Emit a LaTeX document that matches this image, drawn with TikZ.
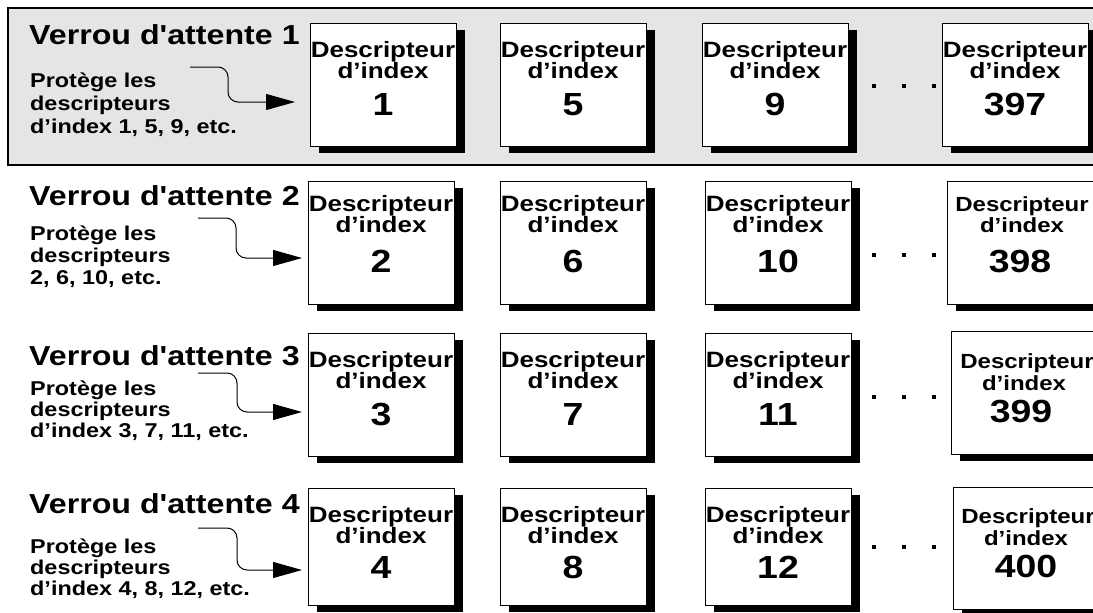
\documentclass[tikz,border=0pt]{standalone}
\usepackage{fontspec}
\setmainfont{Liberation Sans}[FakeStretch=1.17, Ligatures=TeXOff]
\usetikzlibrary{arrows.meta,shadows}
\definecolor{panelgray}{HTML}{E5E5E5}
\begin{document}
\begin{tikzpicture}[x=1pt,y=-1pt,
  dbox/.style={draw=black, line width=1pt, fill=white, minimum width=146pt, minimum height=123pt,
    inner sep=0pt, outer sep=0pt, anchor=north west,
    general shadow={fill=black, shadow xshift=8.5pt, shadow yshift=-6.7pt}},
  dtxt/.style={anchor=base, inner sep=0pt, font=\bfseries\fontsize{22.2}{24}\selectfont},
  dtxts/.style={anchor=base, inner sep=0pt, font=\bfseries\fontsize{20.5}{22}\selectfont},
  dnum/.style={anchor=base, inner sep=0pt, font=\bfseries\fontsize{32}{34}\selectfont},
  ttl/.style={anchor=base west, inner sep=0pt, font=\bfseries\fontsize{27.5}{30}\selectfont},
  sml/.style={anchor=base west, inner sep=0pt, font=\bfseries\fontsize{20}{22}\selectfont},
  conn/.style={line width=1pt, rounded corners=10pt, -{Triangle[length=29pt,width=16pt]}},
  dotmark/.style={fill=black}]
\useasboundingbox (0,0) rectangle (1093,613);
\clip (0,0) rectangle (1093,613);
% panel row 1
\draw[line width=2pt, fill=panelgray] (8,7.5) rectangle (1110,165);

% ---------- Row 1
\node[ttl] (t1) at (29,45) {Verrou d'attente 1};
\node[sml] (p1a) at (30,87) {Protège les};
\node[sml] (p1b) at (30,110) {descripteurs};
\node[sml] (p1c) at (30,133) {d’index 1, 5, 9, etc.};
\foreach \n/\x [count=\c] in {1/310,5/500,9/702,397/942}{
  \node[dbox] (b1\c) at (\x,23) {};
  \node[dtxt] (b1\c d) at ([yshift=-34pt]b1\c.north) {Descripteur};
  \node[dtxt] (b1\c i) at ([yshift=-55pt]b1\c.north) {d’index};
  \node[dnum] (b1\c n) at ([yshift=-92pt]b1\c.north) {\n};
}
\coordinate (s1) at (190,67);
\coordinate (e1) at (295,102);
\draw[conn] (s1) -| ([xshift=-67pt]e1) -- (e1);
\foreach \x in {874,904,934}{\fill[dotmark] (\x-1.6,84.4) rectangle (\x+1.6,87.6);}

% ---------- Row 2
\node[ttl] (t2) at (29,205) {Verrou d'attente 2};
\node[sml] (p2a) at (30,240) {Protège les};
\node[sml] (p2b) at (30,262) {descripteurs};
\node[sml] (p2c) at (30,284) {2, 6, 10, etc.};
\foreach \n/\x [count=\c] in {2/308,6/500,10/705}{
  \node[dbox] (b2\c) at (\x,181) {};
  \node[dtxt] (b2\c d) at ([yshift=-30pt]b2\c.north) {Descripteur};
  \node[dtxt] (b2\c i) at ([yshift=-51pt]b2\c.north) {d’index};
  \node[dnum] (b2\c n) at ([yshift=-91pt]b2\c.north) {\n};
}
\node[dbox] (b24) at (947,181) {};
\node[dtxts] (b24d) at (1022,211) {Descripteur};
\node[dtxts] (b24i) at (1022,232) {d’index};
\node[dnum] (b24n) at (1020,272) {398};
\coordinate (s2) at (198,218);
\coordinate (e2) at (302,258);
\draw[conn] (s2) -| ([xshift=-66pt]e2) -- (e2);
\foreach \x in {874,904,934}{\fill[dotmark] (\x-1.6,253.4) rectangle (\x+1.6,256.6);}

% ---------- Row 3
\node[ttl] (t3) at (29,365) {Verrou d'attente 3};
\node[sml] (p3a) at (30,395) {Protège les};
\node[sml] (p3b) at (30,416) {descripteurs};
\node[sml] (p3c) at (30,437) {d’index 3, 7, 11, etc.};
\foreach \n/\x [count=\c] in {3/308,7/500,11/705}{
  \node[dbox] (b3\c) at (\x,333) {};
  \node[dtxt] (b3\c d) at ([yshift=-34pt]b3\c.north) {Descripteur};
  \node[dtxt] (b3\c i) at ([yshift=-55pt]b3\c.north) {d’index};
  \node[dnum] (b3\c n) at ([yshift=-92pt]b3\c.north) {\n};
}
\node[dbox] (b34) at (951,331) {};
\node[dtxts] (b34d) at (1027,368) {Descripteur};
\node[dtxts] (b34i) at (1024,390) {d’index};
\node[dnum] (b34n) at (1021,422) {399};
\coordinate (s3) at (198,373);
\coordinate (e3) at (302,412);
\draw[conn] (s3) -| ([xshift=-65pt]e3) -- (e3);
\foreach \x in {874,904,934}{\fill[dotmark] (\x-1.6,395.4) rectangle (\x+1.6,398.6);}

% ---------- Row 4
\node[ttl] (t4) at (29,513) {Verrou d'attente 4};
\node[sml] (p4a) at (30,553) {Protège les};
\node[sml] (p4b) at (30,574) {descripteurs};
\node[sml] (p4c) at (30,595) {d’index 4, 8, 12, etc.};
\foreach \n/\x [count=\c] in {4/308,8/500,12/705}{
  \node[dbox, minimum height=117pt] (b4\c) at (\x,488) {};
  \node[dtxt] (b4\c d) at ([yshift=-34pt]b4\c.north) {Descripteur};
  \node[dtxt] (b4\c i) at ([yshift=-55pt]b4\c.north) {d’index};
  \node[dnum] (b4\c n) at ([yshift=-90pt]b4\c.north) {\n};
}
\node[dbox, minimum height=122pt] (b44) at (953,487) {};
\node[dtxts] (b44d) at (1028,523) {Descripteur};
\node[dtxts] (b44i) at (1026,545) {d’index};
\node[dnum] (b44n) at (1026,577) {400};
\coordinate (s4) at (198,528);
\coordinate (e4) at (302,570);
\draw[conn] (s4) -| ([xshift=-65pt]e4) -- (e4);
\foreach \x in {874,904,934}{\fill[dotmark] (\x-1.6,545.4) rectangle (\x+1.6,548.6);}
\end{tikzpicture}
\end{document}
